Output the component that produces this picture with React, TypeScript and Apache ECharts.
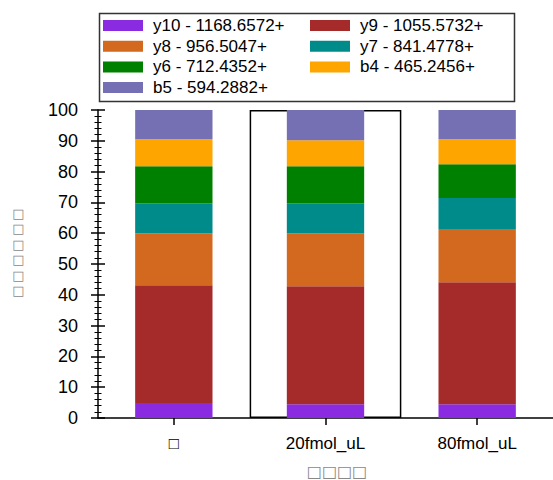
import React, { useEffect, useRef } from "react";
import * as echarts from "echarts";

const categories = ["□", "20fmol_uL", "80fmol_uL"];
const seriesNames = [
  "y10 - 1168.6572+",
  "y9 - 1055.5732+",
  "y8 - 956.5047+",
  "y7 - 841.4778+",
  "y6 - 712.4352+",
  "b4 - 465.2456+",
  "b5 - 594.2882+",
];
const y10 = [4.9, 4.5, 4.5];
const y9 = [38.2, 38.3, 39.6];
const y8 = [16.9, 17.2, 17.0];
const y7 = [9.7, 9.7, 10.3];
const y6 = [12.0, 12.0, 11.0];
const b4 = [8.8, 8.5, 8.1];
const b5 = [9.5, 9.8, 9.5];
const highlightBox = ["-", 100, "-"];
const colors = ["#8A2BE2", "#A52A2A", "#D2691E", "#008B8B", "#008000", "#FFA500", "#7570B3"];
const yTitle = "□\n□\n□\n□\n□\n□";
const xTitle = "□□□□";

const FONT = "Liberation Sans, Arial, sans-serif";
const TOFU_FONT = "DejaVu Sans, sans-serif";

export default function App() {
  const ref = useRef<HTMLDivElement>(null);
  useEffect(() => {
    if (!ref.current) return;
    const chart = echarts.init(ref.current, null, { renderer: "svg" });
    const values = [y10, y9, y8, y7, y6, b4, b5];
    const barSeries = seriesNames.map((n, i) => ({
      name: n,
      type: "bar",
      stack: "total",
      xAxisIndex: 0,
      yAxisIndex: 0,
      barWidth: "51%",
      data: values[i],
      itemStyle: { color: colors[i] },
    }));
    const legendCommon = {
      orient: "vertical",
      icon: "rect",
      itemWidth: 40,
      itemHeight: 11,
      itemGap: 3.7,
      padding: 0,
      selectedMode: false,
      textStyle: { fontSize: 17, lineHeight: 17, color: "#000", fontFamily: FONT, padding: [0, 0, 0, 5] },
    };
    const tickStyle = { color: "#000", width: 1.5 };
    const minorStyle = { color: "#000", width: 1 };
    chart.setOption({
      animation: false,
      color: colors,
      grid: { left: 98, top: 110, width: 456, height: 308, containLabel: false },
      legend: [
        { ...legendCommon, left: 103, top: 17, data: [seriesNames[0], seriesNames[2], seriesNames[4], seriesNames[6]] },
        { ...legendCommon, left: 310, top: 17, data: [seriesNames[1], seriesNames[3], seriesNames[5]] },
      ],
      xAxis: [
        {
          type: "category",
          data: categories,
          position: "bottom",
          axisLine: { show: true, lineStyle: { color: "#000", width: 1.5 } },
          axisTick: { show: true, alignWithLabel: true, length: 7, lineStyle: tickStyle },
          axisLabel: { fontSize: 17, color: "#000", fontFamily: FONT, margin: 17 },
        },
        {
          type: "category",
          data: categories,
          position: "bottom",
          axisLine: { show: false },
          axisTick: { show: true, inside: true, alignWithLabel: true, length: 7, lineStyle: tickStyle },
          axisLabel: { show: false },
        },
      ],
      yAxis: [
        {
          type: "value",
          min: 0,
          max: 100,
          interval: 10,
          position: "left",
          splitLine: { show: false },
          axisLine: { show: true, lineStyle: { color: "#000", width: 1.5 } },
          axisTick: { show: true, length: 7, lineStyle: tickStyle },
          minorTick: { show: true, splitNumber: 5, length: 3.5, lineStyle: minorStyle },
          axisLabel: { fontSize: 18, color: "#000", fontFamily: FONT, margin: 20 },
        },
        {
          type: "value",
          min: 0,
          max: 100,
          interval: 10,
          position: "left",
          splitLine: { show: false },
          axisLine: { show: false },
          axisTick: { show: true, inside: true, length: 7, lineStyle: tickStyle },
          minorTick: { show: true, splitNumber: 5, length: 3.5, lineStyle: minorStyle },
          axisLabel: { show: false },
        },
      ],
      series: [
        {
          name: "highlight",
          type: "bar",
          xAxisIndex: 1,
          yAxisIndex: 0,
          barWidth: "100%",
          silent: true,
          z: 1,
          data: highlightBox,
          itemStyle: { color: "rgba(0,0,0,0)", borderColor: "#000", borderWidth: 1.5 },
        },
        ...barSeries,
      ],
      graphic: [
        {
          type: "rect",
          left: 97,
          top: 11,
          shape: { width: 415, height: 88 },
          style: { fill: "none", stroke: "#333", lineWidth: 1.5 },
          silent: true,
          z: 0,
        },
        {
          type: "text",
          x: 18.5,
          y: 252,
          style: {
            text: yTitle,
            fontSize: 13,
            lineHeight: 15.4,
            fill: "#888",
            fontFamily: TOFU_FONT,
            align: "center",
            verticalAlign: "middle",
          },
        },
        {
          type: "text",
          x: 337,
          y: 471,
          style: {
            text: xTitle,
            fontSize: 16,
            fill: "#888",
            fontFamily: TOFU_FONT,
            align: "center",
            verticalAlign: "middle",
          },
        },
      ],
    });
    return () => chart.dispose();
  }, []);
  return (
    <div
      ref={ref}
      style={{ position: "absolute", left: 0, top: 0, width: 553, height: 480 }}
    />
  );
}
